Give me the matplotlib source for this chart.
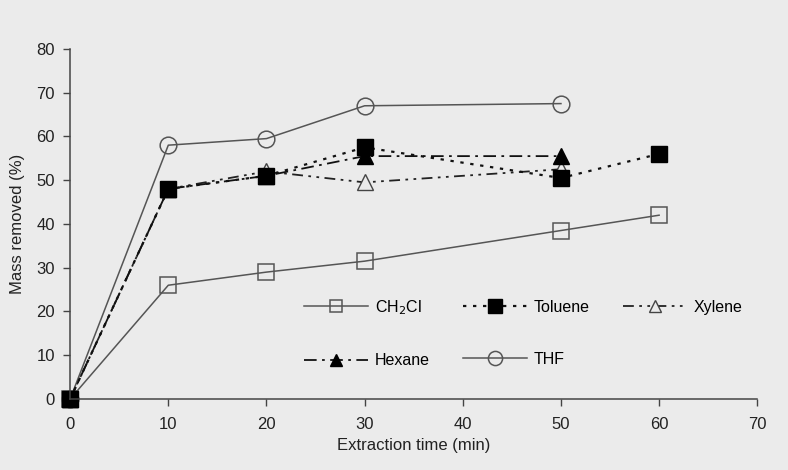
import matplotlib
matplotlib.use("Agg")
import matplotlib.pyplot as plt

# Data
x_ch2cl = [0, 10, 20, 30, 50, 60]
y_ch2cl = [0, 26, 29, 31.5, 38.5, 42]
x_tol = [0, 10, 20, 30, 50, 60]
y_tol = [0, 48, 51, 57.5, 50.5, 56]
x_xyl = [0, 10, 20, 30, 50]
y_xyl = [0, 48, 52, 49.5, 52.5]
x_hex = [0, 10, 20, 30, 50]
y_hex = [0, 48, 51, 55.5, 55.5]
x_thf = [0, 10, 20, 30, 50]
y_thf = [0, 58, 59.5, 67, 67.5]

x_ticks = [0, 10, 20, 30, 40, 50, 60, 70]
y_ticks = [0, 10, 20, 30, 40, 50, 60, 70, 80]

plt.rcParams['font.family'] = ['Liberation Sans', 'DejaVu Sans']
bg = '#ebebeb'
fig = plt.figure(figsize=(7.88, 4.70), dpi=100, facecolor=bg)
ax = fig.add_axes([0.089, 0.151, 0.872, 0.745], facecolor=bg)

gray = '#555555'
h_ch, = ax.plot(x_ch2cl, y_ch2cl, '-', color=gray, lw=1.1, marker='s', ms=11,
                mfc='none', mec=gray, mew=1.1, label='CH$_2$Cl')
h_thf, = ax.plot(x_thf, y_thf, '-', color=gray, lw=1.1, marker='o', ms=12,
                 mfc='none', mec=gray, mew=1.1, label='THF')
h_xyl, = ax.plot(x_xyl, y_xyl, color='#222222', lw=1.3, dashes=(6, 3, 1.5, 3, 1.5, 3),
                 marker='^', ms=11, mfc=bg, mec='#444444', mew=1.0, label='Xylene')
h_hex, = ax.plot(x_hex, y_hex, color='#111111', lw=1.3, dashes=(7, 3, 1.5, 3),
                 marker='^', ms=11, mfc='black', mec='black', label='Hexane')
h_tol, = ax.plot(x_tol, y_tol, color='#111111', lw=1.6, dashes=(1.5, 3),
                 marker='s', ms=12, mfc='black', mec='black', label='Toluene')

ax.set_xlim(0, 70)
ax.set_ylim(0, 80)
ax.set_xticks(x_ticks)
ax.set_yticks(y_ticks)
ax.tick_params(axis='both', direction='out', length=5, width=1, color='#444444',
               labelsize=12, labelcolor='#222222')
ax.tick_params(axis='x', pad=8)
ax.tick_params(axis='y', pad=6)
for s in ['top', 'right']:
    ax.spines[s].set_visible(False)
for s in ['left', 'bottom']:
    ax.spines[s].set_color('#444444')
    ax.spines[s].set_linewidth(1.1)
ax.set_xlabel('Extraction time (min)', fontsize=12, color='#222222', labelpad=4)
ax.set_ylabel('Mass removed (%)', fontsize=12, color='#222222', labelpad=8)
for m in [h_ch, h_thf, h_xyl, h_hex, h_tol]:
    m.set_clip_on(False)

leg = ax.legend([h_ch, h_hex, h_tol, h_thf, h_xyl],
                ['CH$_2$Cl', 'Hexane', 'Toluene', 'THF', 'Xylene'],
                ncol=3, frameon=False, fontsize=11.5, handlelength=4.0,
                handletextpad=0.4, columnspacing=2.1, labelspacing=2.3,
                markerscale=0.85, loc='upper left',
                bbox_to_anchor=(0.32, 0.33))

fig.savefig('out.png', dpi=100, facecolor=bg)
